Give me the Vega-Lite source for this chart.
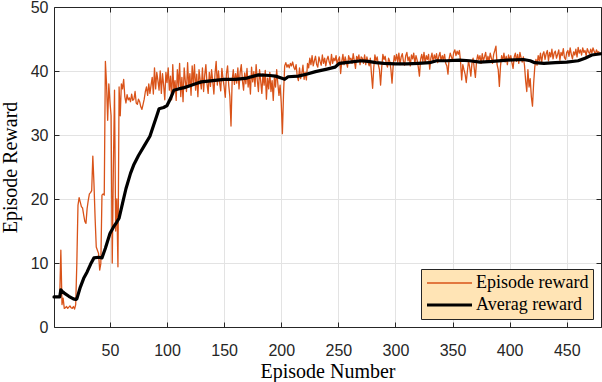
{
  "$schema": "https://vega.github.io/schema/vega-lite/v6.json",
  "width": 547,
  "height": 320,
  "padding": {"left": 54, "top": 7, "right": 1, "bottom": 55},
  "autosize": {"type": "none"},
  "background": "white",
  "config": {
    "view": {"stroke": null},
    "axis": {
      "domainColor": "#262626", "domainWidth": 1,
      "tickColor": "#262626", "tickWidth": 1, "tickSize": -5,
      "labelColor": "#262626", "labelFont": "Liberation Sans", "labelFontSize": 16,
      "labelFlush": false, "labelOverlap": false,
      "titleFont": "Liberation Serif", "titleFontSize": 20, "titleFontWeight": "normal", "titleColor": "#000000",
      "gridColor": "#E3E3E3", "gridWidth": 1
    },
    "legend": {
      "orient": "bottom-right", "offset": 8, "padding": 4,
      "fillColor": "#FFE4B5", "strokeColor": "#262626",
      "symbolType": "stroke", "symbolSize": 2025, "clipHeight": 20, "rowPadding": 2,
      "labelOffset": 2, "labelFont": "Liberation Serif", "labelFontSize": 18, "labelColor": "#000000",
      "symbolOpacity": 1
    }
  },
  "datasets": {
    "ep": [
{"e":1,"Episode reward":4.7},{"e":2,"Episode reward":4.7},{"e":3,"Episode reward":4.7},{"e":4,"Episode reward":4.7},{"e":5,"Episode reward":4.7},{"e":6,"Episode reward":4.7},{"e":7,"Episode reward":12.0},{"e":8,"Episode reward":3.5},{"e":9,"Episode reward":4.5},{"e":10,"Episode reward":2.9},
{"e":11,"Episode reward":3.0},{"e":12,"Episode reward":3.2},{"e":13,"Episode reward":2.9},{"e":14,"Episode reward":3.1},{"e":15,"Episode reward":3.3},{"e":16,"Episode reward":3.0},{"e":17,"Episode reward":2.9},{"e":18,"Episode reward":3.2},{"e":19,"Episode reward":2.8},{"e":20,"Episode reward":3.5},
{"e":21,"Episode reward":10.0},{"e":22,"Episode reward":19.0},{"e":23,"Episode reward":20.2},{"e":24,"Episode reward":19.5},{"e":25,"Episode reward":18.8},{"e":26,"Episode reward":18.6},{"e":27,"Episode reward":17.5},{"e":28,"Episode reward":16.5},{"e":29,"Episode reward":16.2},{"e":30,"Episode reward":18.5},
{"e":31,"Episode reward":19.8},{"e":32,"Episode reward":20.8},{"e":33,"Episode reward":21.0},{"e":34,"Episode reward":21.3},{"e":35,"Episode reward":26.7},{"e":36,"Episode reward":22.4},{"e":37,"Episode reward":17.0},{"e":38,"Episode reward":12.5},{"e":39,"Episode reward":12.0},{"e":40,"Episode reward":11.5},
{"e":41,"Episode reward":8.9},{"e":42,"Episode reward":9.9},{"e":43,"Episode reward":20.6},{"e":44,"Episode reward":20.8},{"e":45,"Episode reward":20.6},{"e":46,"Episode reward":41.5},{"e":47,"Episode reward":38.0},{"e":48,"Episode reward":32.3},{"e":49,"Episode reward":38.0},{"e":50,"Episode reward":35.2},
{"e":51,"Episode reward":33.0},{"e":52,"Episode reward":10.0},{"e":53,"Episode reward":25.0},{"e":54,"Episode reward":37.0},{"e":55,"Episode reward":15.0},{"e":56,"Episode reward":20.0},{"e":57,"Episode reward":9.4},{"e":58,"Episode reward":37.5},{"e":59,"Episode reward":33.0},{"e":60,"Episode reward":38.0},
{"e":61,"Episode reward":37.2},{"e":62,"Episode reward":38.7},{"e":63,"Episode reward":36.0},{"e":64,"Episode reward":35.0},{"e":65,"Episode reward":36.3},{"e":66,"Episode reward":35.5},{"e":67,"Episode reward":35.8},{"e":68,"Episode reward":35.2},{"e":69,"Episode reward":36.4},{"e":70,"Episode reward":35.4},
{"e":71,"Episode reward":35.6},{"e":72,"Episode reward":36.8},{"e":73,"Episode reward":35.0},{"e":74,"Episode reward":34.8},{"e":75,"Episode reward":35.6},{"e":76,"Episode reward":35.2},{"e":77,"Episode reward":34.4},{"e":78,"Episode reward":34.0},{"e":79,"Episode reward":34.8},{"e":80,"Episode reward":35.6},
{"e":81,"Episode reward":36.8},{"e":82,"Episode reward":37.5},{"e":83,"Episode reward":36.2},{"e":84,"Episode reward":38.0},{"e":85,"Episode reward":36.5},{"e":86,"Episode reward":37.8},{"e":87,"Episode reward":39.0},{"e":88,"Episode reward":36.4},{"e":89,"Episode reward":40.5},{"e":90,"Episode reward":37.2},
{"e":91,"Episode reward":39.8},{"e":92,"Episode reward":38.5},{"e":93,"Episode reward":37.0},{"e":94,"Episode reward":40.0},{"e":95,"Episode reward":36.5},{"e":96,"Episode reward":39.6},{"e":97,"Episode reward":37.8},{"e":98,"Episode reward":35.5},{"e":99,"Episode reward":39.8},{"e":100,"Episode reward":38.2},
{"e":101,"Episode reward":40.5},{"e":102,"Episode reward":37.0},{"e":103,"Episode reward":39.2},{"e":104,"Episode reward":35.5},{"e":105,"Episode reward":41.0},{"e":106,"Episode reward":36.8},{"e":107,"Episode reward":38.5},{"e":108,"Episode reward":35.4},{"e":109,"Episode reward":40.2},{"e":110,"Episode reward":37.6},
{"e":111,"Episode reward":41.2},{"e":112,"Episode reward":36.0},{"e":113,"Episode reward":39.0},{"e":114,"Episode reward":35.2},{"e":115,"Episode reward":40.5},{"e":116,"Episode reward":38.4},{"e":117,"Episode reward":36.8},{"e":118,"Episode reward":41.3},{"e":119,"Episode reward":37.5},{"e":120,"Episode reward":39.6},
{"e":121,"Episode reward":36.2},{"e":122,"Episode reward":40.8},{"e":123,"Episode reward":38.0},{"e":124,"Episode reward":41.0},{"e":125,"Episode reward":37.0},{"e":126,"Episode reward":39.5},{"e":127,"Episode reward":36.0},{"e":128,"Episode reward":40.2},{"e":129,"Episode reward":38.6},{"e":130,"Episode reward":37.2},
{"e":131,"Episode reward":40.5},{"e":132,"Episode reward":36.8},{"e":133,"Episode reward":39.4},{"e":134,"Episode reward":41.0},{"e":135,"Episode reward":38.0},{"e":136,"Episode reward":36.5},{"e":137,"Episode reward":39.8},{"e":138,"Episode reward":37.6},{"e":139,"Episode reward":40.2},{"e":140,"Episode reward":38.4},
{"e":141,"Episode reward":36.4},{"e":142,"Episode reward":39.6},{"e":143,"Episode reward":41.5},{"e":144,"Episode reward":37.8},{"e":145,"Episode reward":40.0},{"e":146,"Episode reward":38.2},{"e":147,"Episode reward":36.9},{"e":148,"Episode reward":40.4},{"e":149,"Episode reward":38.8},{"e":150,"Episode reward":37.5},
{"e":151,"Episode reward":35.9},{"e":152,"Episode reward":39.6},{"e":153,"Episode reward":40.8},{"e":154,"Episode reward":37.8},{"e":155,"Episode reward":36.0},{"e":156,"Episode reward":31.4},{"e":157,"Episode reward":38.5},{"e":158,"Episode reward":40.2},{"e":159,"Episode reward":37.9},{"e":160,"Episode reward":39.6},
{"e":161,"Episode reward":38.1},{"e":162,"Episode reward":40.5},{"e":163,"Episode reward":37.2},{"e":164,"Episode reward":39.8},{"e":165,"Episode reward":41.0},{"e":166,"Episode reward":38.5},{"e":167,"Episode reward":37.0},{"e":168,"Episode reward":39.7},{"e":169,"Episode reward":38.0},{"e":170,"Episode reward":40.4},
{"e":171,"Episode reward":37.5},{"e":172,"Episode reward":39.2},{"e":173,"Episode reward":36.4},{"e":174,"Episode reward":40.6},{"e":175,"Episode reward":38.3},{"e":176,"Episode reward":39.9},{"e":177,"Episode reward":37.6},{"e":178,"Episode reward":41.0},{"e":179,"Episode reward":38.6},{"e":180,"Episode reward":36.8},
{"e":181,"Episode reward":40.2},{"e":182,"Episode reward":38.4},{"e":183,"Episode reward":36.5},{"e":184,"Episode reward":39.6},{"e":185,"Episode reward":37.8},{"e":186,"Episode reward":40.1},{"e":187,"Episode reward":35.6},{"e":188,"Episode reward":38.9},{"e":189,"Episode reward":37.2},{"e":190,"Episode reward":39.8},
{"e":191,"Episode reward":36.8},{"e":192,"Episode reward":38.5},{"e":193,"Episode reward":35.4},{"e":194,"Episode reward":39.0},{"e":195,"Episode reward":37.5},{"e":196,"Episode reward":40.2},{"e":197,"Episode reward":38.0},{"e":198,"Episode reward":36.2},{"e":199,"Episode reward":37.8},{"e":200,"Episode reward":35.0},
{"e":201,"Episode reward":30.2},{"e":202,"Episode reward":36.5},{"e":203,"Episode reward":40.8},{"e":204,"Episode reward":41.3},{"e":205,"Episode reward":40.6},{"e":206,"Episode reward":41.0},{"e":207,"Episode reward":40.5},{"e":208,"Episode reward":41.2},{"e":209,"Episode reward":40.8},{"e":210,"Episode reward":41.4},
{"e":211,"Episode reward":40.6},{"e":212,"Episode reward":40.2},{"e":213,"Episode reward":41.0},{"e":214,"Episode reward":39.2},{"e":215,"Episode reward":38.5},{"e":216,"Episode reward":40.5},{"e":217,"Episode reward":38.8},{"e":218,"Episode reward":39.6},{"e":219,"Episode reward":40.9},{"e":220,"Episode reward":38.7},
{"e":221,"Episode reward":39.8},{"e":222,"Episode reward":38.6},{"e":223,"Episode reward":41.2},{"e":224,"Episode reward":40.5},{"e":225,"Episode reward":42.0},{"e":226,"Episode reward":41.0},{"e":227,"Episode reward":42.4},{"e":228,"Episode reward":40.8},{"e":229,"Episode reward":41.6},{"e":230,"Episode reward":42.3},
{"e":231,"Episode reward":41.0},{"e":232,"Episode reward":40.6},{"e":233,"Episode reward":42.2},{"e":234,"Episode reward":41.5},{"e":235,"Episode reward":40.9},{"e":236,"Episode reward":42.5},{"e":237,"Episode reward":41.2},{"e":238,"Episode reward":42.0},{"e":239,"Episode reward":40.8},{"e":240,"Episode reward":41.8},
{"e":241,"Episode reward":42.3},{"e":242,"Episode reward":41.4},{"e":243,"Episode reward":40.9},{"e":244,"Episode reward":42.6},{"e":245,"Episode reward":41.2},{"e":246,"Episode reward":42.0},{"e":247,"Episode reward":41.6},{"e":248,"Episode reward":42.4},{"e":249,"Episode reward":40.9},{"e":250,"Episode reward":41.8},
{"e":251,"Episode reward":42.2},{"e":252,"Episode reward":39.6},{"e":253,"Episode reward":41.5},{"e":254,"Episode reward":42.6},{"e":255,"Episode reward":41.0},{"e":256,"Episode reward":42.2},{"e":257,"Episode reward":41.4},{"e":258,"Episode reward":40.6},{"e":259,"Episode reward":42.4},{"e":260,"Episode reward":41.8},
{"e":261,"Episode reward":42.0},{"e":262,"Episode reward":41.2},{"e":263,"Episode reward":42.7},{"e":264,"Episode reward":41.6},{"e":265,"Episode reward":40.4},{"e":266,"Episode reward":42.3},{"e":267,"Episode reward":41.8},{"e":268,"Episode reward":42.5},{"e":269,"Episode reward":41.0},{"e":270,"Episode reward":42.2},
{"e":271,"Episode reward":42.0},{"e":272,"Episode reward":41.2},{"e":273,"Episode reward":42.5},{"e":274,"Episode reward":41.0},{"e":275,"Episode reward":42.2},{"e":276,"Episode reward":41.4},{"e":277,"Episode reward":40.8},{"e":278,"Episode reward":42.0},{"e":279,"Episode reward":39.5},{"e":280,"Episode reward":37.3},
{"e":281,"Episode reward":40.5},{"e":282,"Episode reward":42.5},{"e":283,"Episode reward":41.6},{"e":284,"Episode reward":42.2},{"e":285,"Episode reward":41.0},{"e":286,"Episode reward":40.2},{"e":287,"Episode reward":37.8},{"e":288,"Episode reward":40.6},{"e":289,"Episode reward":42.6},{"e":290,"Episode reward":41.8},
{"e":291,"Episode reward":42.3},{"e":292,"Episode reward":41.2},{"e":293,"Episode reward":40.6},{"e":294,"Episode reward":42.0},{"e":295,"Episode reward":41.5},{"e":296,"Episode reward":40.3},{"e":297,"Episode reward":38.1},{"e":298,"Episode reward":40.8},{"e":299,"Episode reward":42.4},{"e":300,"Episode reward":41.6},
{"e":301,"Episode reward":42.6},{"e":302,"Episode reward":41.4},{"e":303,"Episode reward":42.8},{"e":304,"Episode reward":41.0},{"e":305,"Episode reward":42.2},{"e":306,"Episode reward":42.7},{"e":307,"Episode reward":41.5},{"e":308,"Episode reward":40.9},{"e":309,"Episode reward":42.4},{"e":310,"Episode reward":42.9},
{"e":311,"Episode reward":41.6},{"e":312,"Episode reward":42.2},{"e":313,"Episode reward":40.8},{"e":314,"Episode reward":42.5},{"e":315,"Episode reward":41.9},{"e":316,"Episode reward":42.8},{"e":317,"Episode reward":41.2},{"e":318,"Episode reward":42.4},{"e":319,"Episode reward":41.7},{"e":320,"Episode reward":40.6},
{"e":321,"Episode reward":39.2},{"e":322,"Episode reward":41.8},{"e":323,"Episode reward":42.6},{"e":324,"Episode reward":41.5},{"e":325,"Episode reward":42.9},{"e":326,"Episode reward":41.2},{"e":327,"Episode reward":42.4},{"e":328,"Episode reward":41.8},{"e":329,"Episode reward":42.6},{"e":330,"Episode reward":40.3},
{"e":331,"Episode reward":42.0},{"e":332,"Episode reward":42.8},{"e":333,"Episode reward":41.4},{"e":334,"Episode reward":42.5},{"e":335,"Episode reward":41.9},{"e":336,"Episode reward":42.7},{"e":337,"Episode reward":41.3},{"e":338,"Episode reward":42.3},{"e":339,"Episode reward":42.9},{"e":340,"Episode reward":41.5},
{"e":341,"Episode reward":42.4},{"e":342,"Episode reward":41.8},{"e":343,"Episode reward":42.6},{"e":344,"Episode reward":41.2},{"e":345,"Episode reward":40.8},{"e":346,"Episode reward":39.5},{"e":347,"Episode reward":41.9},{"e":348,"Episode reward":42.8},{"e":349,"Episode reward":42.2},{"e":350,"Episode reward":41.6},
{"e":351,"Episode reward":42.9},{"e":352,"Episode reward":43.3},{"e":353,"Episode reward":42.4},{"e":354,"Episode reward":43.1},{"e":355,"Episode reward":42.6},{"e":356,"Episode reward":43.2},{"e":357,"Episode reward":41.5},{"e":358,"Episode reward":38.6},{"e":359,"Episode reward":41.0},{"e":360,"Episode reward":40.2},
{"e":361,"Episode reward":39.5},{"e":362,"Episode reward":38.2},{"e":363,"Episode reward":40.0},{"e":364,"Episode reward":41.6},{"e":365,"Episode reward":40.6},{"e":366,"Episode reward":39.2},{"e":367,"Episode reward":41.2},{"e":368,"Episode reward":42.0},{"e":369,"Episode reward":40.4},{"e":370,"Episode reward":39.0},
{"e":371,"Episode reward":41.5},{"e":372,"Episode reward":42.5},{"e":373,"Episode reward":41.8},{"e":374,"Episode reward":42.4},{"e":375,"Episode reward":41.2},{"e":376,"Episode reward":42.7},{"e":377,"Episode reward":41.6},{"e":378,"Episode reward":42.2},{"e":379,"Episode reward":42.9},{"e":380,"Episode reward":41.4},
{"e":381,"Episode reward":42.3},{"e":382,"Episode reward":41.5},{"e":383,"Episode reward":42.8},{"e":384,"Episode reward":42.0},{"e":385,"Episode reward":41.2},{"e":386,"Episode reward":42.6},{"e":387,"Episode reward":43.2},{"e":388,"Episode reward":43.9},{"e":389,"Episode reward":41.0},{"e":390,"Episode reward":40.2},
{"e":391,"Episode reward":37.6},{"e":392,"Episode reward":40.8},{"e":393,"Episode reward":42.4},{"e":394,"Episode reward":41.6},{"e":395,"Episode reward":42.8},{"e":396,"Episode reward":41.4},{"e":397,"Episode reward":42.3},{"e":398,"Episode reward":41.0},{"e":399,"Episode reward":42.5},{"e":400,"Episode reward":41.7},
{"e":401,"Episode reward":42.4},{"e":402,"Episode reward":41.3},{"e":403,"Episode reward":40.4},{"e":404,"Episode reward":42.2},{"e":405,"Episode reward":42.8},{"e":406,"Episode reward":41.5},{"e":407,"Episode reward":42.6},{"e":408,"Episode reward":41.2},{"e":409,"Episode reward":42.9},{"e":410,"Episode reward":42.1},
{"e":411,"Episode reward":41.4},{"e":412,"Episode reward":42.2},{"e":413,"Episode reward":40.9},{"e":414,"Episode reward":38.5},{"e":415,"Episode reward":36.8},{"e":416,"Episode reward":40.2},{"e":417,"Episode reward":37.5},{"e":418,"Episode reward":38.8},{"e":419,"Episode reward":36.0},{"e":420,"Episode reward":34.5},
{"e":421,"Episode reward":38.0},{"e":422,"Episode reward":40.6},{"e":423,"Episode reward":41.8},{"e":424,"Episode reward":40.9},{"e":425,"Episode reward":42.4},{"e":426,"Episode reward":41.6},{"e":427,"Episode reward":42.8},{"e":428,"Episode reward":41.3},{"e":429,"Episode reward":42.6},{"e":430,"Episode reward":43.0},
{"e":431,"Episode reward":41.8},{"e":432,"Episode reward":42.7},{"e":433,"Episode reward":43.2},{"e":434,"Episode reward":41.6},{"e":435,"Episode reward":42.9},{"e":436,"Episode reward":42.2},{"e":437,"Episode reward":43.4},{"e":438,"Episode reward":41.9},{"e":439,"Episode reward":42.8},{"e":440,"Episode reward":43.1},
{"e":441,"Episode reward":42.0},{"e":442,"Episode reward":42.6},{"e":443,"Episode reward":43.3},{"e":444,"Episode reward":41.7},{"e":445,"Episode reward":42.9},{"e":446,"Episode reward":42.4},{"e":447,"Episode reward":43.5},{"e":448,"Episode reward":42.1},{"e":449,"Episode reward":41.8},{"e":450,"Episode reward":42.9},
{"e":451,"Episode reward":43.2},{"e":452,"Episode reward":42.3},{"e":453,"Episode reward":43.6},{"e":454,"Episode reward":42.6},{"e":455,"Episode reward":41.9},{"e":456,"Episode reward":43.0},{"e":457,"Episode reward":42.5},{"e":458,"Episode reward":43.4},{"e":459,"Episode reward":42.2},{"e":460,"Episode reward":43.7},
{"e":461,"Episode reward":42.8},{"e":462,"Episode reward":43.3},{"e":463,"Episode reward":42.5},{"e":464,"Episode reward":43.6},{"e":465,"Episode reward":42.9},{"e":466,"Episode reward":43.2},{"e":467,"Episode reward":42.4},{"e":468,"Episode reward":43.5},{"e":469,"Episode reward":43.0},{"e":470,"Episode reward":42.7},
{"e":471,"Episode reward":43.4},{"e":472,"Episode reward":42.8},{"e":473,"Episode reward":43.6},{"e":474,"Episode reward":43.1},{"e":475,"Episode reward":42.6},{"e":476,"Episode reward":43.3},{"e":477,"Episode reward":42.9},{"e":478,"Episode reward":43.0},{"e":479,"Episode reward":42.7},{"e":480,"Episode reward":42.8}
    ],
    "avg": [
{"e":1,"Averag reward":4.7},{"e":6,"Averag reward":4.7},{"e":7,"Averag reward":5.8},{"e":8,"Averag reward":5.6},{"e":10,"Averag reward":5.3},{"e":14,"Averag reward":4.8},{"e":18,"Averag reward":4.4},{"e":20,"Averag reward":4.3},{"e":21,"Averag reward":4.4},{"e":24,"Averag reward":6.2},
{"e":27,"Averag reward":7.6},{"e":30,"Averag reward":8.6},{"e":33,"Averag reward":9.8},{"e":36,"Averag reward":10.8},{"e":40,"Averag reward":10.9},{"e":43,"Averag reward":10.8},{"e":46,"Averag reward":12.3},{"e":50,"Averag reward":14.6},{"e":53,"Averag reward":15.6},{"e":56,"Averag reward":16.4},
{"e":58,"Averag reward":17.0},{"e":61,"Averag reward":19.3},{"e":64,"Averag reward":21.6},{"e":68,"Averag reward":24.0},{"e":71,"Averag reward":25.4},{"e":75,"Averag reward":26.8},{"e":80,"Averag reward":28.3},{"e":85,"Averag reward":29.8},{"e":88,"Averag reward":31.4},{"e":91,"Averag reward":33.0},
{"e":93,"Averag reward":34.1},{"e":97,"Averag reward":34.3},{"e":100,"Averag reward":34.6},{"e":103,"Averag reward":35.7},{"e":106,"Averag reward":37.0},{"e":110,"Averag reward":37.2},{"e":115,"Averag reward":37.4},{"e":120,"Averag reward":37.7},{"e":125,"Averag reward":38.0},{"e":130,"Averag reward":38.3},
{"e":140,"Averag reward":38.5},{"e":150,"Averag reward":38.7},{"e":160,"Averag reward":38.7},{"e":170,"Averag reward":38.9},{"e":180,"Averag reward":39.4},{"e":190,"Averag reward":39.3},{"e":195,"Averag reward":39.2},{"e":200,"Averag reward":38.9},{"e":203,"Averag reward":38.7},{"e":206,"Averag reward":39.1},
{"e":215,"Averag reward":39.2},{"e":222,"Averag reward":39.5},{"e":230,"Averag reward":39.9},{"e":240,"Averag reward":40.3},{"e":247,"Averag reward":40.6},{"e":251,"Averag reward":41.2},{"e":260,"Averag reward":41.4},{"e":270,"Averag reward":41.6},{"e":276,"Averag reward":41.5},{"e":283,"Averag reward":41.3},
{"e":290,"Averag reward":41.2},{"e":300,"Averag reward":41.1},{"e":310,"Averag reward":41.1},{"e":320,"Averag reward":41.2},{"e":330,"Averag reward":41.3},{"e":336,"Averag reward":41.6},{"e":345,"Averag reward":41.6},{"e":356,"Averag reward":41.7},{"e":365,"Averag reward":41.6},{"e":374,"Averag reward":41.4},
{"e":385,"Averag reward":41.5},{"e":398,"Averag reward":41.7},{"e":412,"Averag reward":41.8},{"e":418,"Averag reward":41.6},{"e":422,"Averag reward":41.3},{"e":430,"Averag reward":41.2},{"e":440,"Averag reward":41.3},{"e":450,"Averag reward":41.4},{"e":460,"Averag reward":41.6},{"e":466,"Averag reward":42.0},
{"e":472,"Averag reward":42.5},{"e":480,"Averag reward":42.7}
    ]
  },
  "layer": [
    {
      "data": {"name": "ep"},
      "transform": [{"fold": ["Episode reward"], "as": ["s", "v"]}],
      "mark": {"type": "line", "strokeJoin": "round"},
      "encoding": {
        "x": {"field": "e", "type": "quantitative",
          "scale": {"domain": [1, 480], "nice": false, "zero": false},
          "axis": {"orient": "bottom", "values": [50, 100, 150, 200, 250, 300, 350, 400, 450], "title": "Episode Number", "grid": true,
            "labelPadding": 20, "titleX": 273.5, "titleY": 50, "titleBaseline": "alphabetic"}},
        "y": {"field": "v", "type": "quantitative",
          "scale": {"domain": [0, 50], "nice": false},
          "axis": {"orient": "left", "values": [0, 10, 20, 30, 40, 50], "title": "Episode Reward", "grid": true,
            "labelPadding": 11, "titleX": -38, "titleY": 160, "titleAngle": 270, "titleBaseline": "alphabetic", "titleAlign": "center"}},
        "color": {"field": "s", "type": "nominal",
          "scale": {"domain": ["Episode reward", "Averag reward"], "range": ["#D95319", "#000000"]},
          "legend": {"title": null}},
        "strokeWidth": {"field": "s", "type": "ordinal",
          "scale": {"type": "ordinal", "domain": ["Episode reward", "Averag reward"], "range": [1.3, 3.2]},
          "legend": {"title": null}}
      }
    },
    {
      "data": {"name": "avg"},
      "transform": [{"fold": ["Averag reward"], "as": ["s", "v"]}],
      "mark": {"type": "line", "strokeJoin": "round", "strokeCap": "round"},
      "encoding": {
        "x": {"field": "e", "type": "quantitative",
          "scale": {"domain": [1, 480], "nice": false, "zero": false},
          "axis": {"orient": "top", "values": [50, 100, 150, 200, 250, 300, 350, 400, 450], "title": null, "labels": false, "grid": false}},
        "y": {"field": "v", "type": "quantitative",
          "scale": {"domain": [0, 50], "nice": false},
          "axis": {"orient": "right", "values": [0, 10, 20, 30, 40, 50], "title": null, "labels": false, "grid": false}},
        "color": {"field": "s", "type": "nominal",
          "scale": {"domain": ["Episode reward", "Averag reward"], "range": ["#D95319", "#000000"]},
          "legend": {"title": null}},
        "strokeWidth": {"field": "s", "type": "ordinal",
          "scale": {"type": "ordinal", "domain": ["Episode reward", "Averag reward"], "range": [1.3, 3.2]},
          "legend": {"title": null}}
      }
    }
  ],
  "resolve": {"axis": {"x": "independent", "y": "independent"}}
}
